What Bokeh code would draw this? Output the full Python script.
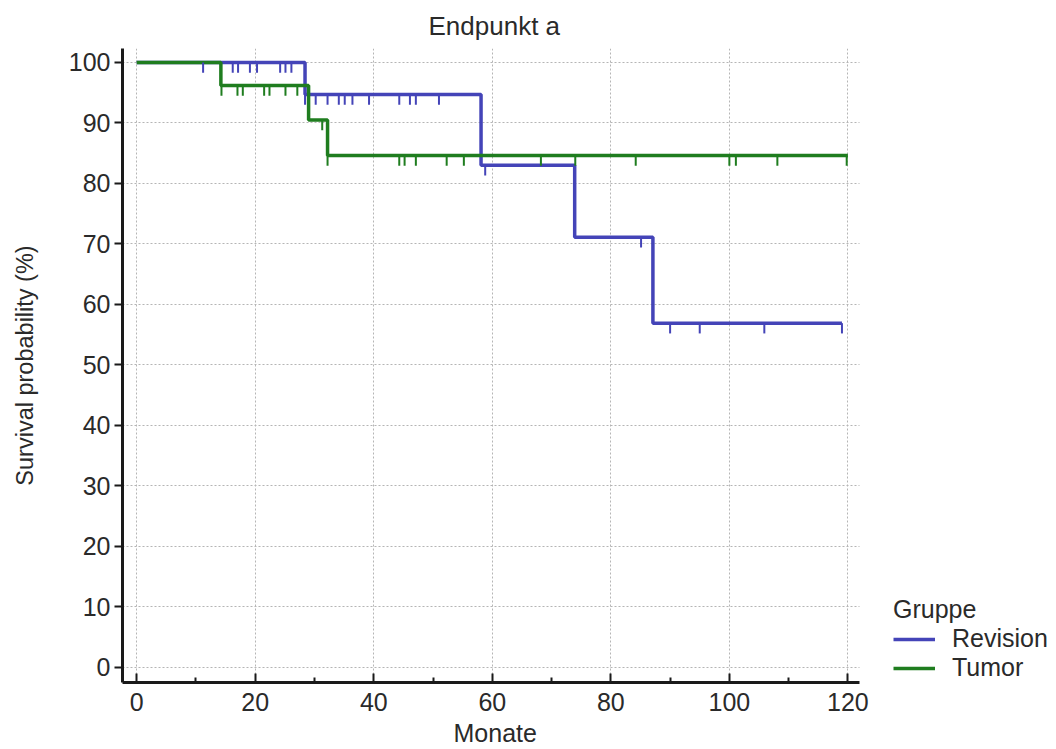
from bokeh.plotting import figure
from bokeh.models import Legend, LegendItem, FixedTicker, Range1d, Grid, Title
from bokeh.embed import file_html
from bokeh.resources import INLINE

# ---- data ----
# Kaplan-Meier steps: times where the curve changes and the level after the change
rev_t = [0, 28.4, 58.1, 73.9, 87.1, 119.0]
rev_s = [100, 94.7, 83.0, 71.1, 56.9, 56.9]
tum_t = [0, 14.2, 29.0, 32.2, 120.0]
tum_s = [100, 96.2, 90.5, 84.6, 84.6]

# censored observations (time, level)
rev_cens_t = [11.2, 16.2, 17.1, 19.1, 20.3, 24.2, 25.1, 26.1,
              28.4, 30.2, 32.2, 34.1, 35.1, 36.4, 39.2, 44.3, 46.1, 47.1, 51.0,
              58.8, 85.1, 90.0, 95.0, 105.9, 119.0]
rev_cens_s = [100, 100, 100, 100, 100, 100, 100, 100,
              94.7, 94.7, 94.7, 94.7, 94.7, 94.7, 94.7, 94.7, 94.7, 94.7, 94.7,
              83.0, 71.1, 56.9, 56.9, 56.9, 56.9]
tum_cens_t = [14.3, 17.0, 17.9, 21.5, 22.4, 25.1, 27.1, 31.3,
              32.2, 44.3, 45.2, 47.1, 52.3, 55.2, 68.2, 74.0, 84.2, 100.0, 101.1, 108.1, 119.8]
tum_cens_s = [96.2, 96.2, 96.2, 96.2, 96.2, 96.2, 96.2, 90.5,
              84.6, 84.6, 84.6, 84.6, 84.6, 84.6, 84.6, 84.6, 84.6, 84.6, 84.6, 84.6, 84.6]

x_ticks = [0, 20, 40, 60, 80, 100, 120]
x_minor = [10, 30, 50, 70, 90, 110]
y_ticks = [0, 10, 20, 30, 40, 50, 60, 70, 80, 90, 100]

BLUE = "#4444b8"
GREEN = "#1f7d1f"
FONT = "Liberation Sans"
TXT = "#2a2a2a"
TICK_LEN = 1.7
X_LO, X_HI = -2.4, 121.9        # extent of the drawn x axis
X_VIEW_HI = 155.2               # frame extends right to host the legend

p = figure(width=1056, height=749, output_backend="svg", toolbar_location=None,
           x_range=Range1d(X_LO, X_VIEW_HI), y_range=Range1d(-2.5, 102.3),
           min_border_left=122, min_border_right=0, min_border_top=47, min_border_bottom=64,
           title="Endpunkt a")
p.outline_line_color = None
p.background_fill_color = "white"

p.title.align = "left"
p.title.offset = 306
p.title.text_font = FONT
p.title.text_font_size = "26px"
p.title.text_font_style = "normal"
p.title.text_color = TXT
p.title.standoff = 16

for ax in (p.xaxis[0], p.yaxis[0]):
    ax.axis_line_width = 3
    ax.axis_line_color = "#1a1a1a"
    ax.major_tick_line_color = "#1a1a1a"
    ax.major_tick_line_width = 2
    ax.minor_tick_line_color = "#1a1a1a"
    ax.minor_tick_line_width = 2
    ax.major_label_text_font = FONT
    ax.major_label_text_font_size = "25px"
    ax.major_label_text_color = TXT
    ax.axis_label_text_font = FONT
    ax.axis_label_text_font_style = "normal"
    ax.axis_label_text_color = TXT

p.xaxis.bounds = (X_LO, X_HI)
p.xaxis.ticker = FixedTicker(ticks=x_ticks, minor_ticks=x_minor)
p.xaxis.major_tick_in = 9
p.xaxis.major_tick_out = 0
p.xaxis.minor_tick_in = 5
p.xaxis.minor_tick_out = 0
p.xaxis.major_label_standoff = 10

# x-axis label, centred under the drawn axis (not under the wider frame)
xlab = Title(text="Monate", align="left", offset=331, text_font=FONT,
             text_font_size="25px", text_font_style="normal", text_color=TXT, standoff=6)
p.add_layout(xlab, "below")

p.yaxis.ticker = FixedTicker(ticks=y_ticks)
p.yaxis.major_tick_in = 0
p.yaxis.major_tick_out = 8
p.yaxis.minor_tick_line_color = None
p.yaxis.major_label_standoff = 4
p.yaxis.axis_label = "Survival probability (%)"
p.yaxis.axis_label_text_font_size = "23.5px"
p.yaxis.axis_label_standoff = 28

GRID_COLOR, GRID_DASH = "#b5b5b5", "2 2"
p.xgrid.grid_line_color = GRID_COLOR
p.xgrid.grid_line_dash = GRID_DASH
if "cross_bounds" in Grid.properties():
    p.ygrid.grid_line_color = GRID_COLOR
    p.ygrid.grid_line_dash = GRID_DASH
    p.ygrid.cross_bounds = (X_LO, X_HI)
else:
    p.ygrid.grid_line_color = None
    p.multi_line(xs=[[X_LO, X_HI] for _ in y_ticks], ys=[[v, v] for v in y_ticks],
                 line_color=GRID_COLOR, line_dash=GRID_DASH, line_width=1)

r_rev = p.step(rev_t, rev_s, mode="after", line_color=BLUE, line_width=3.5)
r_tum = p.step(tum_t, tum_s, mode="after", line_color=GREEN, line_width=3.5)

p.segment(x0=rev_cens_t, y0=rev_cens_s, x1=rev_cens_t,
          y1=[s - TICK_LEN for s in rev_cens_s], line_color=BLUE, line_width=2)
p.segment(x0=tum_cens_t, y0=tum_cens_s, x1=tum_cens_t,
          y1=[s - TICK_LEN for s in tum_cens_s], line_color=GREEN, line_width=2)

legend = Legend(items=[LegendItem(label="Revision", renderers=[r_rev]),
                       LegendItem(label="Tumor", renderers=[r_tum])],
                title="Gruppe", location=(771, 0))
legend.title_text_font = FONT
legend.title_text_font_size = "25px"
legend.title_text_font_style = "normal"
legend.title_text_color = TXT
legend.title_standoff = 0
legend.label_text_font = FONT
legend.label_text_font_size = "25px"
legend.label_text_color = TXT
legend.glyph_width = 42
legend.glyph_height = 22
legend.label_standoff = 17
legend.spacing = -2
legend.padding = 0
legend.margin = 0
legend.border_line_color = None
legend.background_fill_alpha = 0
p.add_layout(legend, "center")

open("out.html", "w").write(file_html(p, INLINE))
